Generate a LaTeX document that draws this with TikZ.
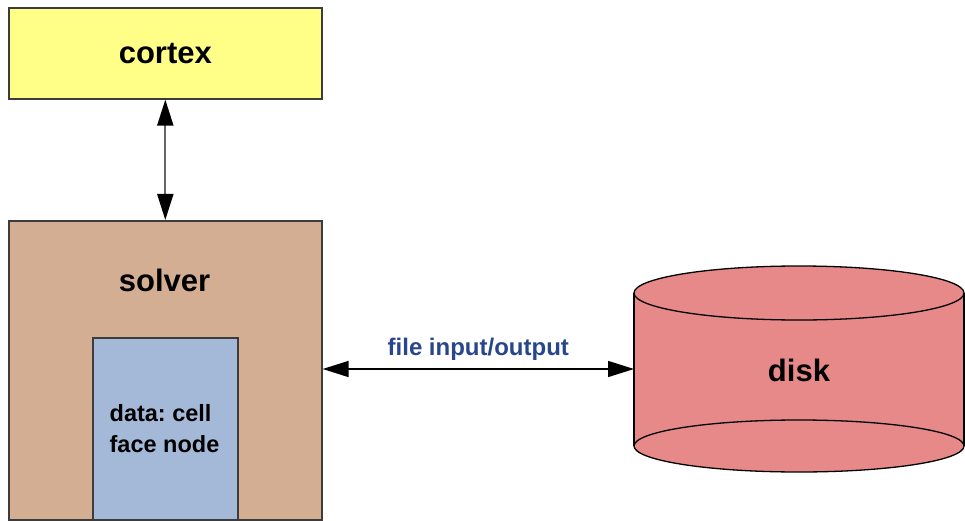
\documentclass[tikz,border=0pt]{standalone}
\usepackage{fontspec}
\setmainfont{Liberation Sans}
\usetikzlibrary{arrows.meta}
\definecolor{cortexfill}{RGB}{255,255,136}
\definecolor{solverfill}{RGB}{211,174,146}
\definecolor{datafill}{RGB}{164,185,216}
\definecolor{diskfill}{RGB}{232,137,137}
\definecolor{boxline}{RGB}{60,60,60}
\definecolor{labelblue}{RGB}{40,70,140}
\tikzset{
  box/.style={draw=boxline, line width=1.6pt, rectangle, inner sep=0pt},
  bigtext/.style={font=\fontsize{31}{36}\selectfont\bfseries},
  smalltext/.style={font=\fontsize{23.5}{31}\selectfont\bfseries, align=left},
  bigtip/.tip={Triangle[length=26pt,width=16pt,color=black]},
  twoway/.style={bigtip-bigtip},
}
\begin{document}
\frenchspacing
\begin{tikzpicture}[x=1pt, y=-1pt]
\useasboundingbox (0,0) rectangle (965,521);

% cortex box
\node[box, fill=cortexfill, minimum width=313pt, minimum height=91pt, anchor=north west] (cortex) at (8,7) {};
\node[bigtext] (cortexlabel) at (cortex.center) {cortex};

% solver box with the data block inside
\node[box, fill=solverfill, minimum width=313pt, minimum height=299pt, anchor=north west] (solver) at (8,220) {};
\node[bigtext] (solverlabel) at (164.5,280) {solver};
\node[box, fill=datafill, minimum width=145pt, minimum height=182pt, anchor=north west] (data) at (92,337) {};
\node[smalltext, anchor=center] (datalabel) at (164.5,429) {data: cell\\face node};

% disk cylinder (y axis points down, so angle 90 is the lower side)
\fill[diskfill] (634,293) -- (634,446) arc[start angle=180, end angle=0, x radius=165, y radius=26]
  -- (964,293) arc[start angle=0, end angle=-180, x radius=165, y radius=27] -- cycle;
\draw[line width=1.3pt] (799,293) ellipse[x radius=165, y radius=27];
\draw[line width=1.3pt] (799,446) ellipse[x radius=165, y radius=26];
\draw[line width=1.3pt] (634,293) -- (634,446) (964,293) -- (964,446);
\node[bigtext] (disk) at (799,370) {disk};
\coordinate (diskleft) at (634,369);
\coordinate (solverright) at (solver.east |- diskleft);

% connectors
\draw[twoway, gray!80!black, line width=2pt] (cortex.south) -- (solver.north);
\draw[twoway, black, line width=1.5pt] (solverright) -- (diskleft)
  node[midway, above=4pt, text=labelblue, font=\fontsize{24}{28}\selectfont\bfseries] (iolabel) {file input/output};
\end{tikzpicture}
\end{document}
